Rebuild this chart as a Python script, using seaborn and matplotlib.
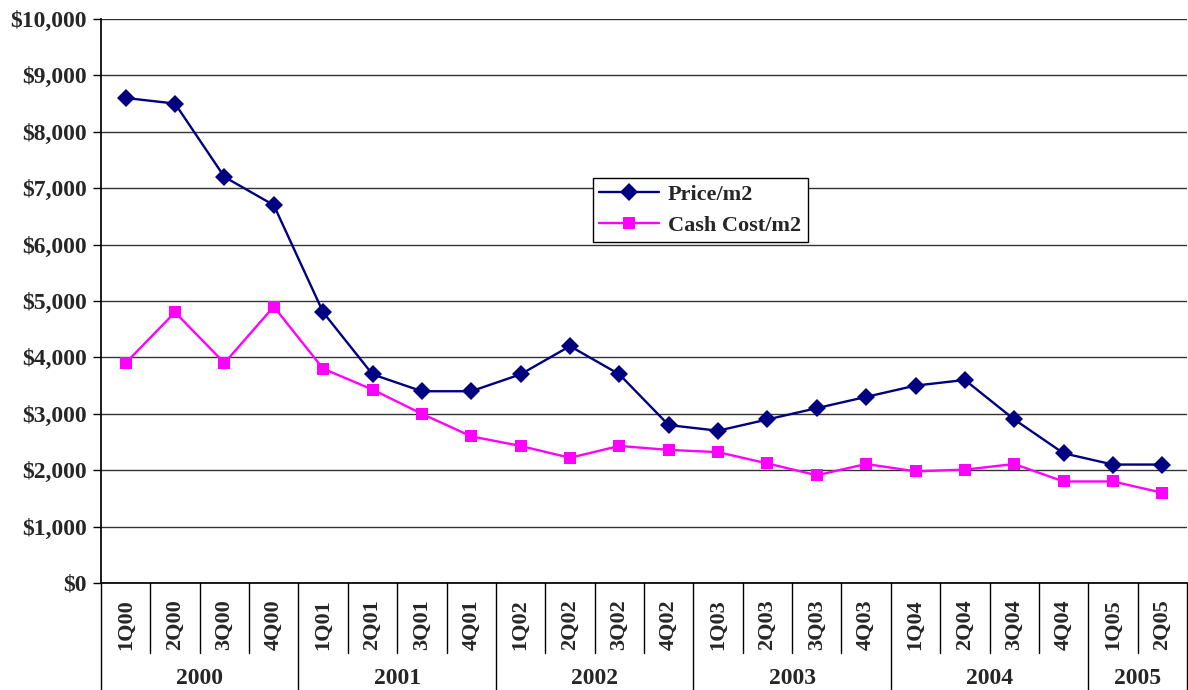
import matplotlib
matplotlib.use("Agg")
import matplotlib.pyplot as plt
import matplotlib.transforms as mtransforms
import seaborn as sns
import pandas as pd

# Kategoriler ve seriler
quarters = ["1Q00", "2Q00", "3Q00", "4Q00",
            "1Q01", "2Q01", "3Q01", "4Q01",
            "1Q02", "2Q02", "3Q02", "4Q02",
            "1Q03", "2Q03", "3Q03", "4Q03",
            "1Q04", "2Q04", "3Q04", "4Q04",
            "1Q05", "2Q05"]
years = ["2000", "2001", "2002", "2003", "2004", "2005"]
quarters_per_year = [4, 4, 4, 4, 4, 2]

price = [8600, 8500, 7200, 6700,
         4800, 3700, 3400, 3400,
         3700, 4200, 3700, 2800,
         2700, 2900, 3100, 3300,
         3500, 3600, 2900, 2300,
         2100, 2100]
cash_cost = [3900, 4800, 3900, 4900,
             3800, 3430, 3000, 2600,
             2430, 2220, 2430, 2360,
             2320, 2120, 1910, 2110,
             1980, 2010, 2110, 1800,
             1800, 1600]

y_ticks = list(range(0, 10001, 1000))

sns.set_theme(style="white")
plt.rcParams["font.family"] = ["Liberation Serif", "DejaVu Serif"]
plt.rcParams["font.weight"] = "bold"

df = pd.DataFrame({
    "pos": list(range(len(quarters))) * 2,
    "value": price + cash_cost,
    "series": ["Price/m2"] * len(quarters) + ["Cash Cost/m2"] * len(quarters),
})

fig = plt.figure(figsize=(11.88, 6.90), dpi=100)
ax = fig.add_axes([101 / 1188, 107 / 690, 1086 / 1188, 564 / 690])

sns.lineplot(data=df, x="pos", y="value", hue="series", style="series",
             palette={"Price/m2": "#000080", "Cash Cost/m2": "#FF00FF"},
             markers={"Price/m2": "D", "Cash Cost/m2": "s"}, dashes=False,
             markersize=9, markeredgewidth=0, linewidth=1.7, ax=ax)

ax.set_xlim(-0.5, len(quarters) - 0.5)
ax.set_ylim(0, 10000)
ax.set_yticks(y_ticks)
ax.set_yticklabels([f"${v:,}" for v in y_ticks], fontsize=17, fontweight="bold")
ax.yaxis.grid(True, color="#333333", linewidth=1)
ax.set_axisbelow(True)
ax.tick_params(axis="y", length=6, width=1, color="black", left=True, pad=4)
ax.set_xticks([])
ax.set_xlabel("")
ax.set_ylabel("")

for side in ["top", "right"]:
    ax.spines[side].set_visible(False)
ax.spines["left"].set_color("black")
ax.spines["bottom"].set_color("black")

# Çok seviyeli kategori ekseni
trans = mtransforms.blended_transform_factory(ax.transData, ax.transAxes)
q_bottom = -(653 - 583) / 564
y_bottom = -(690 - 583) / 564
for i, q in enumerate(quarters):
    ax.text(i, -(625 - 583) / 564, q, transform=trans, rotation=90,
            ha="center", va="center", fontsize=16, fontweight="bold")

start = 0
boundaries = [-0.5]
for yr, n in zip(years, quarters_per_year):
    mid = start + (n - 1) / 2
    ax.text(mid, -(678 - 583) / 564, yr, transform=trans,
            ha="center", va="center", fontsize=17, fontweight="bold")
    start += n
    boundaries.append(start - 0.5)

for k in range(len(quarters) + 1):
    b = k - 0.5
    low = y_bottom if b in boundaries else q_bottom
    ax.plot([b, b], [0, low], transform=trans, color="black",
            linewidth=1, clip_on=False)

leg = ax.legend(loc="upper left", bbox_to_anchor=(0.4526, 0.718),
                borderaxespad=0, frameon=True, fancybox=False,
                framealpha=1, edgecolor="black", title=None,
                prop={"size": 16, "weight": "bold"}, handlelength=2.7,
                handletextpad=0.4, borderpad=0.3, labelspacing=0.45)
leg.get_frame().set_linewidth(1)

fig.savefig("out.png", dpi=100)
